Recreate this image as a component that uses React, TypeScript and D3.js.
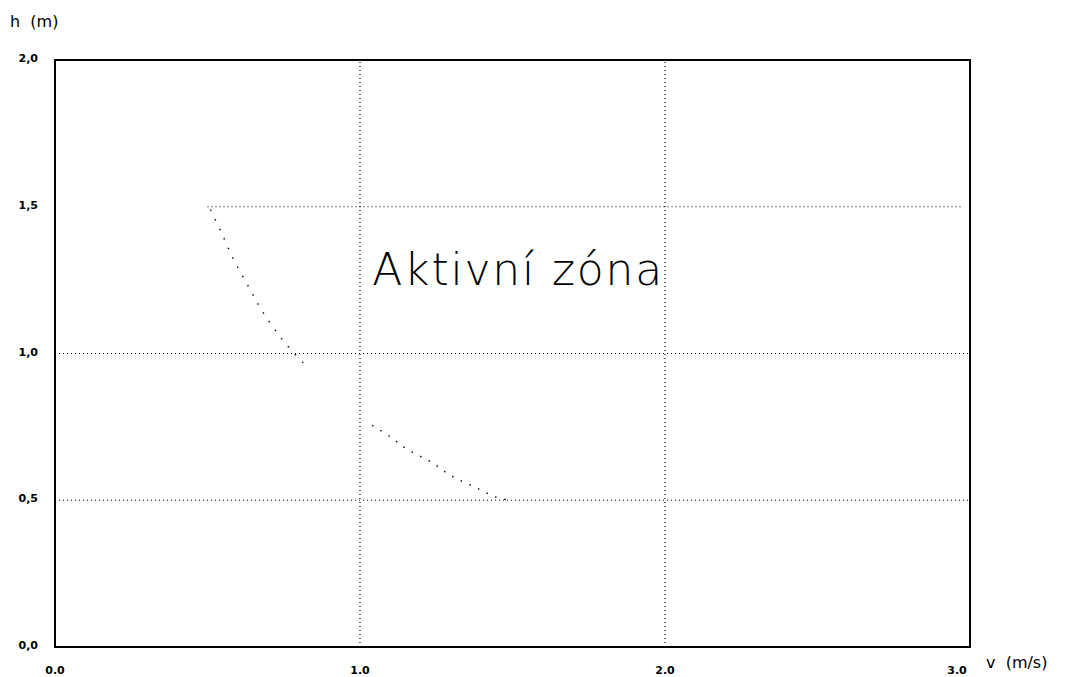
import React from 'react'
import * as d3 from 'd3'

const width = 1076
const height = 677

const xTicks = [0, 1, 2, 3]
const xTickLabels = ['0.0', '1.0', '2.0', '3.0']
const yTicks = [0, 0.5, 1, 1.5, 2]
const yTickLabels = ['0,0', '0,5', '1,0', '1,5', '2,0']

// upper boundary curve (v, h)
const upperCurve = [
  [0.51, 1.49], [0.548, 1.406], [0.587, 1.317], [0.636, 1.225],
  [0.682, 1.14], [0.748, 1.044], [0.816, 0.966]
]
// lower boundary curve (v, h)
const lowerCurve = [
  [1.04, 0.755], [1.098, 0.717], [1.151, 0.676], [1.236, 0.628],
  [1.298, 0.584], [1.38, 0.543], [1.443, 0.512], [1.49, 0.5]
]

// dotted grid lines: [x1, y1, x2, y2] in data units
const gridLines = [
  [1, 0, 1, 2], [2, 0, 2, 2],
  [0, 0.5, 3, 0.5], [0, 1, 3, 1], [0.5, 1.5, 2.97, 1.5]
]

export default function App() {
  const x = d3.scaleLinear().domain([0, 3]).range([55, 970])
  const y = d3.scaleLinear().domain([0, 2]).range([647, 60])

  const line = d3.line<number[]>()
    .x(d => x(d[0]))
    .y(d => y(d[1]))
    .curve(d3.curveCatmullRom)

  const font = 'DejaVu Sans, Verdana, sans-serif'

  return (
    <svg width={width} height={height} style={{ position: 'absolute', left: 0, top: 0, background: '#fff' }}>
      {gridLines.map((g, i) => (
        <line key={`g_${i}`} x1={x(g[0])} y1={y(g[1])} x2={x(g[2])} y2={y(g[3])}
          stroke="#000" strokeWidth={1.2} strokeDasharray="1,3" />
      ))}
      <path d={line(upperCurve) || ''} fill="none" stroke="#111" strokeWidth={1.5} strokeDasharray="1.5,9" />
      <path d={line(lowerCurve) || ''} fill="none" stroke="#111" strokeWidth={1.5} strokeDasharray="1.5,8" />
      <rect x={x(0)} y={y(2)} width={x(3) - x(0)} height={y(0) - y(2)} fill="none" stroke="#000" strokeWidth={2} />

      {yTicks.map((t, i) => (
        <text key={`y_${i}`} x={38} y={y(t) + 2} textAnchor="end" fontFamily={font}
          fontSize={11} fontWeight="bold" fill="#000">{yTickLabels[i]}</text>
      ))}
      {xTicks.map((t, i) => (
        <text key={`x_${i}`} x={i === 3 ? x(t) - 13 : x(t)} y={674} textAnchor="middle" fontFamily={font}
          fontSize={11} fontWeight="bold" fill="#000">{xTickLabels[i]}</text>
      ))}

      <text x={10} y={27} fontFamily={font} fontSize={16} fill="#000" xmlSpace="preserve">h  (m)</text>
      <text x={986} y={668} fontFamily={font} fontSize={16} fill="#000" xmlSpace="preserve">v  (m/s)</text>

      <text x={x(1.04)} y={y(1.233)} fontFamily={font} fontSize={44} fontWeight={200}
        textLength={290} lengthAdjust="spacing" fill="#000">Aktivní zóna</text>
    </svg>
  )
}
